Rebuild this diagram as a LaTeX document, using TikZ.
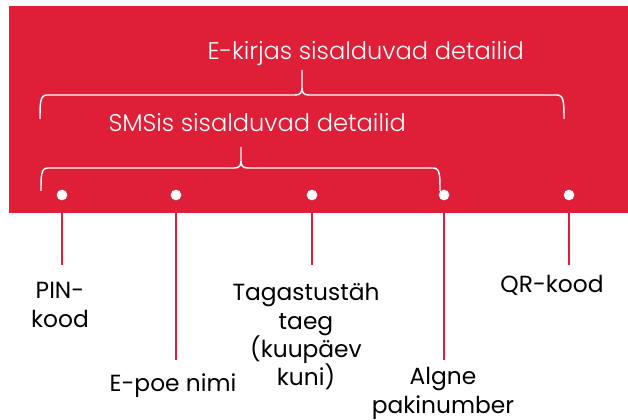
\documentclass[tikz,border=0pt]{standalone}
\usepackage{fontspec}
\setmainfont{Poppins}
\newfontfamily\thinfont{Poppins Light}
\definecolor{kred}{RGB}{222,31,55}
\tikzset{every picture/.style={line width=0.75pt}}

\begin{document}
\begin{tikzpicture}[x=0.75pt,y=0.75pt,yscale=-1,xscale=1,
		dot/.style={circle,fill=white,draw=none,inner sep=0pt,minimum size=8pt},
		lbl/.style={anchor=north,inner sep=0pt,align=center,font=\fontsize{17.5}{21.3}\selectfont},
		toplbl/.style={anchor=base west,inner sep=0pt,text=white,font=\thinfont\fontsize{18.1}{21}\selectfont},
		brc/.style={draw=white,line width=1.1pt},
		stem/.style={draw=kred,line width=1.5pt}]
		\useasboundingbox (0,0) rectangle (628,420);
		
		%Shape: Rectangle [id:band] 
		\fill [kred] (9,6) rectangle (628,213);
		
		%Curve Lines [id:brace1] 
		\draw [brc] (40,119) .. controls (40,103) and (40,95) .. (47,95) -- (295,95) .. controls (300,95) and (302,93) .. (302,88) -- (302,70) ;
		\draw [brc] (564,119) .. controls (564,103) and (564,95) .. (557,95) -- (309,95) .. controls (304,95) and (302,93) .. (302,88) ;
		%Curve Lines [id:brace2] 
		\draw [brc] (41,191) .. controls (41,175) and (41,168) .. (48,168) -- (234,168) .. controls (239,168) and (241,166) .. (241,161) -- (241,147) ;
		\draw [brc] (440,191) .. controls (440,175) and (440,168) .. (433,168) -- (248,168) .. controls (243,168) and (241,166) .. (241,161) ;
		
		% Text Node
		\node [toplbl] (ekiri) at (207,60) {E-kirjas sisalduvad detailid};
		% Text Node
		\node [toplbl] (smsis) at (108,132) {SMSis sisalduvad detailid};
		
		% Dots
		\node [dot] (pindot) at (62,195) {};
		\node [dot] (epoedot) at (176,195) {};
		\node [dot] (tagdot) at (312,195) {};
		\node [dot] (algdot) at (444,195) {};
		\node [dot] (qrdot) at (569,195) {};
		
		% Line ends
		\coordinate (pinend) at (62,265);
		\coordinate (epoeend) at (176,360);
		\coordinate (tagend) at (312,265);
		\coordinate (algend) at (444,360);
		\coordinate (qrend) at (569,265);
		
		%Straight Lines
		\draw [stem] (pindot.south) -- (pinend) ;
		\draw [stem] (epoedot.south) -- (epoeend) ;
		\draw [stem] (tagdot.south) -- (tagend) ;
		\draw [stem] (algdot.south) -- (algend) ;
		\draw [stem] (qrdot.south) -- (qrend) ;
		
		% Text Node
		\node [lbl] (pin) at (60,282) {PIN-\\kood};
		% Text Node
		\node [lbl] (epoe) at (173,373) {E-poe nimi};
		% Text Node
		\node [lbl] (tag) at (306,283) {Tagastustäh\\taeg\\(kuupäev\\kuni)};
		% Text Node
		\node [lbl] (algne) at (443,367) {Algne\\pakinumber};
		% Text Node
		\node [lbl] (qr) at (552,275) {QR-kood};
		
\end{tikzpicture}
\end{document}
